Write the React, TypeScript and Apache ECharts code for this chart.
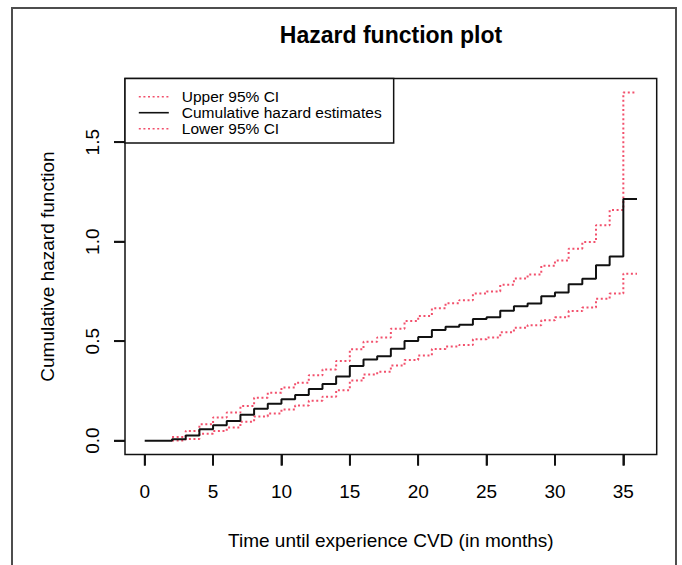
import React, { useEffect, useRef } from "react";
import * as echarts from "echarts";

// Step start times (months) and the value of each curve on [t, t+1)
const timeMonths = [0, 1, 2, 3, 4, 5, 6, 7, 8, 9, 10, 11, 12, 13, 14, 15, 16, 17, 18, 19, 20, 21, 22, 23, 24, 25, 26, 27, 28, 29, 30, 31, 32, 33, 34, 35];
const endMonth = 36;

const cumulativeHazard = [0, 0, 0.007, 0.026, 0.058, 0.077, 0.099, 0.13, 0.161, 0.186, 0.208, 0.229, 0.26, 0.285, 0.322, 0.375, 0.408, 0.424, 0.462, 0.501, 0.521, 0.556, 0.572, 0.583, 0.611, 0.62, 0.653, 0.676, 0.689, 0.726, 0.744, 0.786, 0.814, 0.881, 0.925, 1.214];
const upper95 = [null, null, 0.018, 0.049, 0.082, 0.117, 0.141, 0.174, 0.216, 0.241, 0.267, 0.291, 0.329, 0.358, 0.4, 0.459, 0.497, 0.519, 0.563, 0.601, 0.627, 0.665, 0.691, 0.706, 0.739, 0.75, 0.784, 0.815, 0.835, 0.879, 0.905, 0.965, 0.998, 1.082, 1.159, 1.75];
const lower95 = [null, null, 0.001, 0.009, 0.035, 0.048, 0.066, 0.095, 0.122, 0.137, 0.157, 0.177, 0.201, 0.221, 0.254, 0.302, 0.333, 0.346, 0.378, 0.406, 0.428, 0.461, 0.473, 0.481, 0.51, 0.519, 0.545, 0.567, 0.58, 0.605, 0.62, 0.651, 0.669, 0.713, 0.739, 0.839];

const xTickValues = [0, 5, 10, 15, 20, 25, 30, 35];
const yTickValues = [0, 0.5, 1, 1.5];
const seriesNames = ["Upper 95% CI", "Cumulative hazard estimates", "Lower 95% CI"];

// R-style axis ranges (data range padded by 4% on each side)
const xRange: [number, number] = [-1.44, 37.44];
const yRange: [number, number] = [-0.07, 1.82];

const FONT = "'Liberation Sans', Arial, Helvetica, sans-serif";
const RED = "#F2506C";
const INK = "#111111";
const TICK_LEN = 11;

function toSteps(values: (number | null)[]) {
  const pts: [number, number][] = [];
  timeMonths.forEach((t, i) => {
    const v = values[i];
    if (v !== null && v !== undefined) pts.push([t, v]);
  });
  pts.push([endMonth, values[values.length - 1] as number]);
  return pts;
}

export default function App() {
  const ref = useRef<HTMLDivElement>(null);

  useEffect(() => {
    if (!ref.current) return;
    const chart = echarts.init(ref.current, undefined, { renderer: "svg" });
    const dotted = { type: [2, 2.6], width: 2, color: RED, cap: "butt" };

    chart.setOption({
      animation: false,
      backgroundColor: "#fff",
      title: {
        text: "Hazard function plot",
        left: 391,
        top: 23,
        padding: 0,
        textAlign: "center",
        textStyle: { fontFamily: FONT, fontSize: 23, fontWeight: "bold", color: "#000" },
      },
      graphic: [
        {
          id: "frame",
          type: "polyline",
          silent: true,
          z: -10,
          shape: { points: [[12, 570], [12, 8], [676, 8], [676, 570]] },
          style: { fill: null, stroke: "#4d4d4d", lineWidth: 2 },
        },
      ],
      legend: {
        orient: "vertical",
        left: 125,
        top: 78.5,
        data: seriesNames,
        backgroundColor: "#fff",
        borderColor: INK,
        borderWidth: 1.5,
        borderRadius: 0,
        padding: [10.2, 12, 6.3, 13],
        itemWidth: 30,
        itemHeight: 15,
        itemGap: 0,
        selectedMode: false,
        itemStyle: { opacity: 0 },
        lineStyle: { width: 1.6 },
        textStyle: {
          fontFamily: FONT,
          fontSize: 15.5,
          color: "#000",
          lineHeight: 15,
          padding: [0, 0, 0, 8],
        },
        z: 10,
      },
      grid: {
        left: 125,
        top: 78.5,
        right: 25.3,
        bottom: 110.4,
        show: true,
        borderColor: INK,
        borderWidth: 1.5,
        backgroundColor: "transparent",
        containLabel: false,
        outerBoundsMode: "none",
      },
      xAxis: {
        type: "value",
        position: "bottom",
        min: xRange[0],
        max: xRange[1],
        name: "Time until experience CVD (in months)",
        nameLocation: "middle",
        nameGap: 76,
        nameMoveOverlap: false,
        nameTextStyle: { fontFamily: FONT, fontSize: 19, color: "#000" },
        axisLine: { show: false, onZero: false },
        splitLine: { show: false },
        axisTick: {
          show: true,
          length: TICK_LEN,
          inside: false,
          customValues: xTickValues,
          lineStyle: { color: INK, width: 1.8 },
        },
        axisLabel: {
          show: true,
          margin: 27,
          customValues: xTickValues,
          fontFamily: FONT,
          fontSize: 19,
          color: "#000",
          hideOverlap: false,
        },
      },
      yAxis: {
        type: "value",
        position: "left",
        min: yRange[0],
        max: yRange[1],
        name: "Cumulative hazard function",
        nameLocation: "middle",
        nameGap: 68,
        nameMoveOverlap: false,
        nameTextStyle: { fontFamily: FONT, fontSize: 19, color: "#000" },
        axisLine: { show: false, onZero: false },
        splitLine: { show: false },
        axisTick: {
          show: true,
          length: TICK_LEN,
          inside: false,
          customValues: yTickValues,
          lineStyle: { color: INK, width: 1.8 },
        },
        axisLabel: {
          show: true,
          rotate: 90,
          margin: 23,
          customValues: yTickValues,
          formatter: (v: number) => v.toFixed(1),
          fontFamily: FONT,
          fontSize: 19,
          color: "#000",
          hideOverlap: false,
        },
      },
      series: [
        {
          name: seriesNames[0],
          type: "line",
          step: "end",
          symbol: "none",
          showSymbol: false,
          data: toSteps(upper95),
          lineStyle: dotted,
          itemStyle: { color: RED },
          z: 2,
        },
        {
          name: seriesNames[1],
          type: "line",
          step: "end",
          symbol: "none",
          showSymbol: false,
          data: toSteps(cumulativeHazard),
          lineStyle: { type: "solid", width: 2, color: INK },
          itemStyle: { color: INK },
          z: 3,
        },
        {
          name: seriesNames[2],
          type: "line",
          step: "end",
          symbol: "none",
          showSymbol: false,
          data: toSteps(lower95),
          lineStyle: dotted,
          itemStyle: { color: RED },
          z: 2,
        },
      ],
    });

    // Tick marks placed through the axis scales (R draws them outside the box)
    const yBottom = chart.convertToPixel({ yAxisIndex: 0 }, yRange[0]) as number;
    const xLeft = chart.convertToPixel({ xAxisIndex: 0 }, xRange[0]) as number;
    const extra: any[] = [];
    xTickValues.forEach((v, i) => {
      const px = chart.convertToPixel({ xAxisIndex: 0 }, v) as number;
      if (typeof px === "number" && isFinite(px) && isFinite(yBottom)) {
        extra.push({
          id: "xtick" + i,
          type: "line",
          silent: true,
          z: 50,
          shape: { x1: px, y1: yBottom, x2: px, y2: yBottom + TICK_LEN },
          style: { stroke: INK, lineWidth: 1.8 },
        });
      }
    });
    yTickValues.forEach((v, i) => {
      const py = chart.convertToPixel({ yAxisIndex: 0 }, v) as number;
      if (typeof py === "number" && isFinite(py) && isFinite(xLeft)) {
        extra.push({
          id: "ytick" + i,
          type: "line",
          silent: true,
          z: 50,
          shape: { x1: xLeft - TICK_LEN, y1: py, x2: xLeft, y2: py },
          style: { stroke: INK, lineWidth: 1.8 },
        });
      }
    });
    if (extra.length) chart.setOption({ graphic: extra });

    return () => chart.dispose();
  }, []);

  return (
    <div
      ref={ref}
      style={{ position: "fixed", left: 0, top: 0, width: 682, height: 565, background: "#fff" }}
    />
  );
}
